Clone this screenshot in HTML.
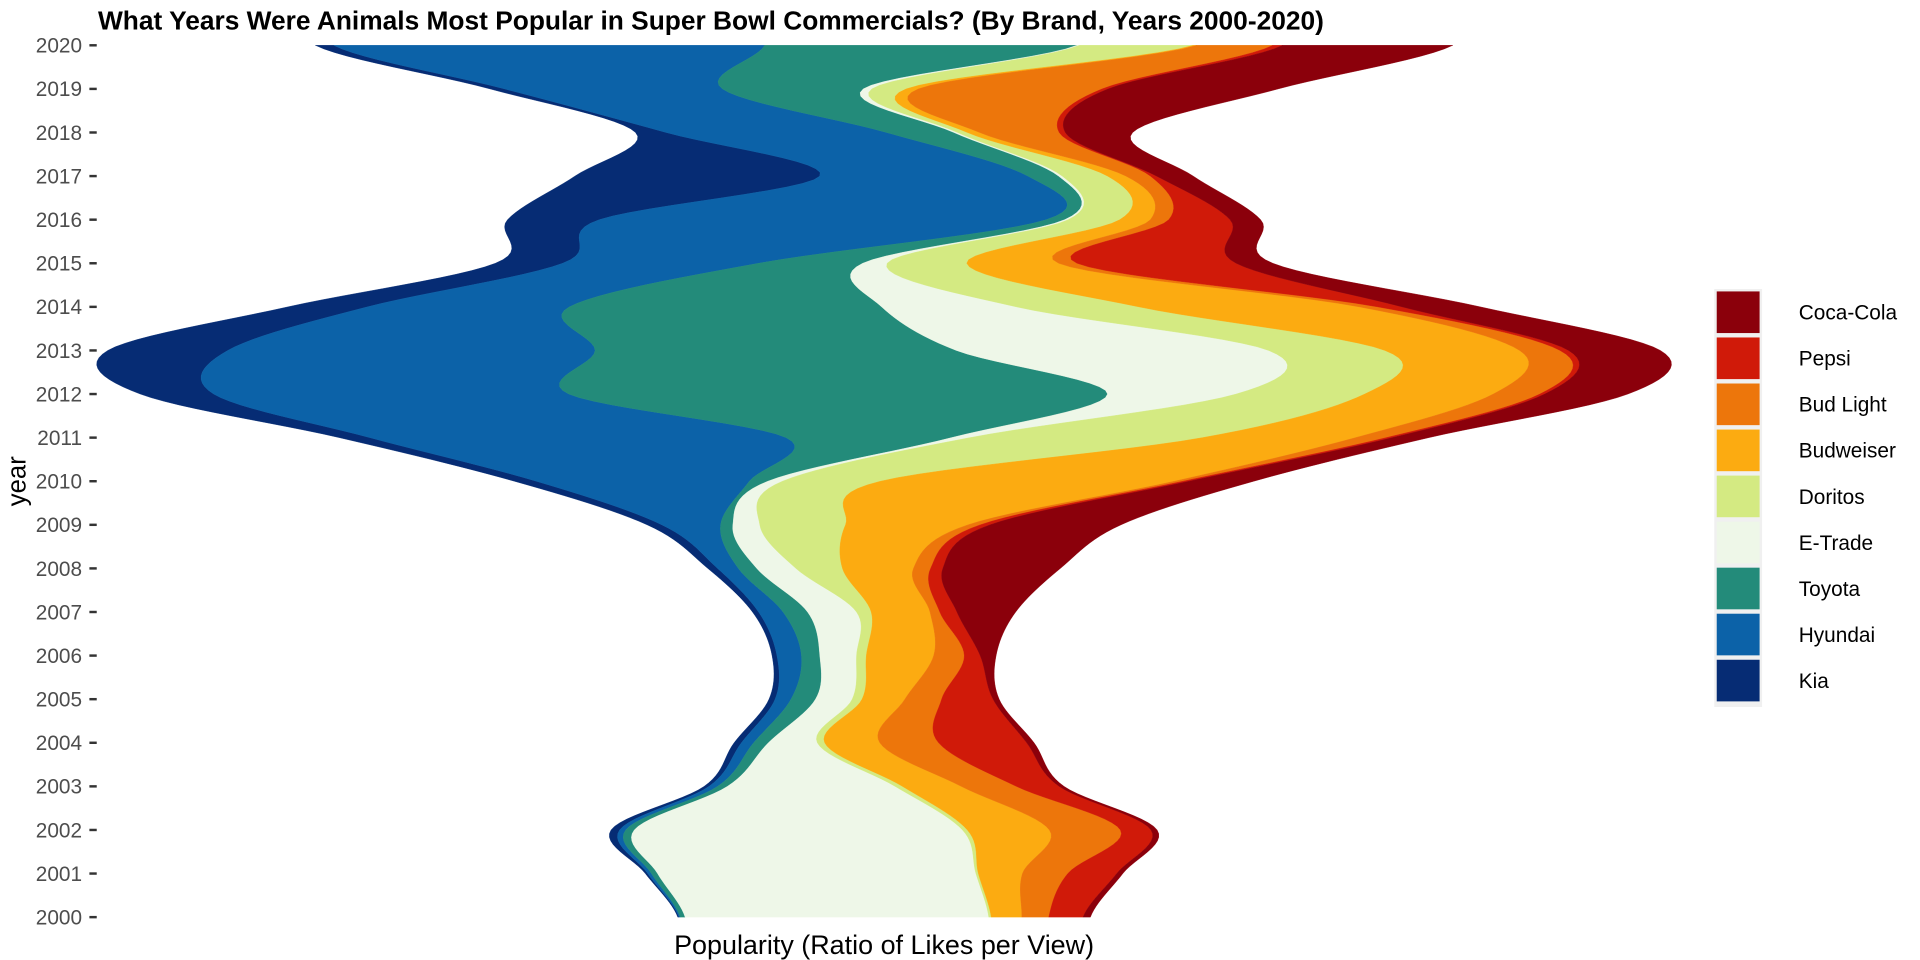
<!DOCTYPE html>
<html><head><meta charset="utf-8"><style>
html,body{margin:0;padding:0;background:#fff;}
svg{display:block;font-family:"Liberation Sans",Arial,sans-serif;}
</style></head><body>
<svg id="chart" width="1920" height="960" viewBox="0 0 1568 784" preserveAspectRatio="none" xmlns="http://www.w3.org/2000/svg">
<text x="80" y="24" font-size="21.5" font-weight="bold" fill="#000">What Years Were Animals Most Popular in Super Bowl Commercials? (By Brand, Years 2000-2020)</text>
<g id="bands"></g>
<g id="yaxis"></g>
<text transform="translate(21,393) rotate(-90)" text-anchor="middle" font-size="21" fill="#000">year</text>
<text x="722" y="779" text-anchor="middle" font-size="22" fill="#000">Popularity (Ratio of Likes per View)</text>
<g id="legend"></g>
</svg>
<script>
const years = [2000,2001,2002,2003,2004,2005,2006,2007,2008,2009,2010,2011,2012,2013,2014,2015,2016,2017,2018,2019,2020];
const brands = ["Kia","Hyundai","Toyota","E-Trade","Doritos","Budweiser","Bud Light","Pepsi","Coca-Cola"];
const kia       = [1,2,7,4,6,5,4,5,8,12,18,25,60,98,65,55,75,200,25,12,15];
const hyundai   = [1,3,5,7,10,13,20,20,17,48,174,340,290,300,165,160,365,170,180,178,352];
const toyota    = [4,5,7,8,12,20,15,20,15,10,15,135,440,295,255,85,15,25,55,115,255];
const etrade    = [248,260,268,137,40,30,30,40,32,22,12,15,105,255,110,20,3,3,3,7,2];
const doritos   = [2,2,4,6,6,8,8,12,38,70,80,190,105,95,100,65,42,37,8,28,93];
const budweiser = [25,36,67,48,45,35,55,48,58,100,240,125,105,110,180,75,25,15,10,10,3];
const budlight  = [22,37,58,45,48,30,25,8,14,10,7,25,38,33,15,15,15,20,65,150,62];
const pepsi     = [28,40,25,35,72,42,13,14,10,8,5,5,4,7,20,130,50,5,5,5,8];
const cocacola  = [6,5,5,4,6,5,13,48,96,107,53,30,68,75,64,30,25,30,55,139,139];
const yearTicks = ["2000","2001","2002","2003","2004","2005","2006","2007","2008","2009","2010","2011","2012","2013","2014","2015","2016","2017","2018","2019","2020"];
const series = [kia,hyundai,toyota,etrade,doritos,budweiser,budlight,pepsi,cocacola];
const colors = ["#062c74","#0c62a8","#238b7a","#eef7e8","#d4ea82","#fcab11","#ed760b","#d01a09","#8b000b"];

const NS="http://www.w3.org/2000/svg";
const CX=722, Y0=749, Y1=37;
const yScale = yr => Y0 - (yr-2000)*(Y0-Y1)/20;

const n=years.length;
const bounds=[];
const totals=years.map((_,i)=>series.reduce((s,a)=>s+a[i],0));
for(let k=0;k<=series.length;k++){
  bounds.push(years.map((_,i)=>{
    let s=CX-totals[i]/2;
    for(let j=0;j<k;j++) s+=series[j][i];
    return s;
  }));
}
function smooth(vals){
  const pts=[];
  const steps=12;
  for(let i=0;i<n-1;i++){
    const p0=vals[Math.max(0,i-1)],p1=vals[i],p2=vals[i+1],p3=vals[Math.min(n-1,i+2)];
    for(let s=0;s<steps;s++){
      const t=s/steps,t2=t*t,t3=t2*t;
      const v=0.5*((2*p1)+(-p0+p2)*t+(2*p0-5*p1+4*p2-p3)*t2+(-p0+3*p1-3*p2+p3)*t3);
      pts.push([v,yScale(years[i]+t*(years[i+1]-years[i]))]);
    }
  }
  pts.push([vals[n-1],yScale(years[n-1])]);
  return pts;
}
const bandG=document.getElementById('bands');
const sb=bounds.map(smooth);
for(let k=0;k<series.length;k++){
  const L=sb[k],R=sb[k+1].slice().reverse();
  const d="M"+L.concat(R).map(p=>p[0].toFixed(2)+","+p[1].toFixed(2)).join("L")+"Z";
  const path=document.createElementNS(NS,'path');
  path.setAttribute('d',d);
  path.setAttribute('fill',colors[k]);
  path.setAttribute('stroke',colors[k]);
  path.setAttribute('stroke-width','0.3');
  
  
  bandG.appendChild(path);
}
const ax=document.getElementById('yaxis');
yearTicks.forEach((lab,i)=>{
  const y=yScale(years[i]);
  const t=document.createElementNS(NS,'text');
  t.setAttribute('x',67);t.setAttribute('y',y+6);t.setAttribute('text-anchor','end');
  t.setAttribute('font-size','17');t.setAttribute('fill','#4d4d4d');
  t.textContent=lab;
  
  
  ax.appendChild(t);
  const l=document.createElementNS(NS,'line');
  l.setAttribute('x1',73);l.setAttribute('x2',79);l.setAttribute('y1',y);l.setAttribute('y2',y);
  l.setAttribute('stroke','#333');l.setAttribute('stroke-width','2');
  
  
  ax.appendChild(l);
});
const lg=document.getElementById('legend');
const order=[8,7,6,5,4,3,2,1,0];
const bg=document.createElementNS(NS,'rect');
bg.setAttribute('x',1400);bg.setAttribute('y',236);bg.setAttribute('width',39);bg.setAttribute('height',9*37.6+3);bg.setAttribute('fill','#f0f0f0');


lg.appendChild(bg);
order.forEach((k,j)=>{
  const y=238+j*37.6;
  const r=document.createElementNS(NS,'rect');
  r.setAttribute('x',1402);r.setAttribute('y',y);r.setAttribute('width',35);r.setAttribute('height',34);
  r.setAttribute('fill',colors[k]);
  
  
  lg.appendChild(r);
  const t=document.createElementNS(NS,'text');
  t.setAttribute('x',1469);t.setAttribute('y',y+23);t.setAttribute('font-size','17');t.setAttribute('fill','#000');
  t.textContent=brands[k];
  
  
  lg.appendChild(t);
});
</script>
</body></html>
